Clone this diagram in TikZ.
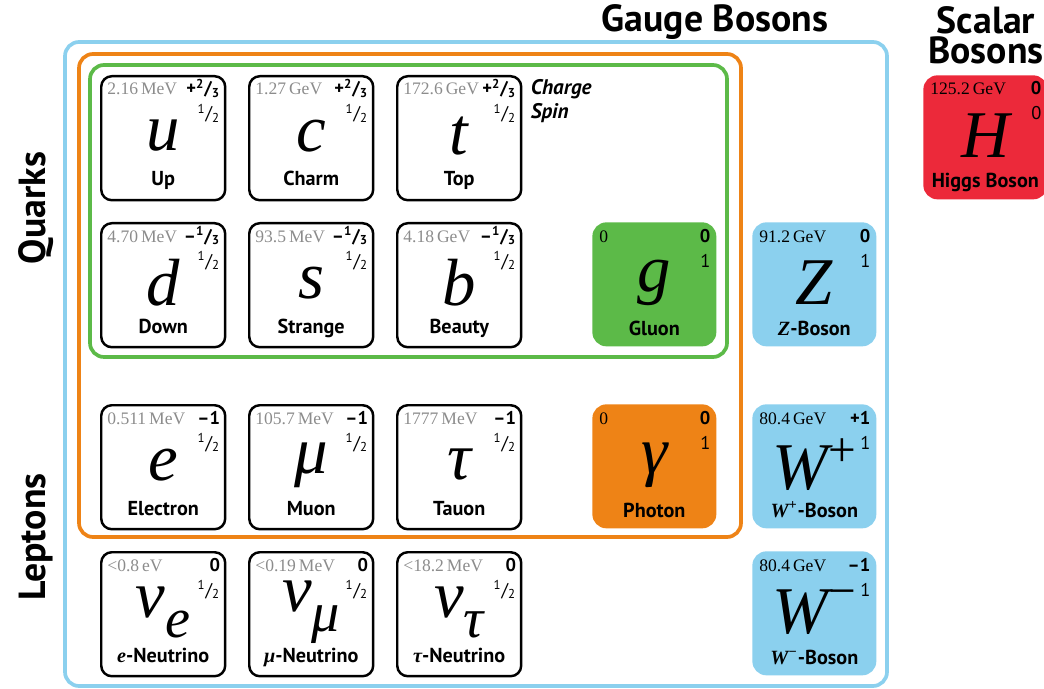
\documentclass[tikz,border=0pt]{standalone}
\usepackage{fontspec}
\usepackage{xcolor}
\usetikzlibrary{positioning}
\newfontfamily\labfont{PT Sans}
\newfontfamily\symfont{Liberation Serif}
\definecolor{bosblue}{RGB}{139,208,238}
\definecolor{lepor}{RGB}{238,131,22}
\definecolor{quagreen}{RGB}{92,186,72}
\definecolor{higred}{RGB}{236,41,58}
\definecolor{massgray}{RGB}{140,140,140}

\newcommand{\slfrac}[2]{\textsuperscript{#1}/\textsubscript{#2}}
\newcommand{\lowsub}[1]{\raisebox{-0.3em}{\fontsize{32}{32}\selectfont #1}}
\newcommand{\highsup}[2]{\raisebox{#1}{\fontsize{28}{28}\selectfont\upshape #2}}
\newcommand{\bi}[1]{{\symfont\bfseries\itshape #1}}
% name, x, y, mass, charge, symbol, label
\newcommand{\fermion}[7]{%
  \node[cell, draw, line width=1.4pt] (#1) at (#2,#3) {};
  \node[mass, massgray, anchor=base west] (#1m) at ([shift={(7,20)}]#1.north west) {#4};
  \node[chg, anchor=base east] (#1q) at ([shift={(-6,20)}]#1.north east) {#5};
  \node[spn, anchor=base east] (#1s) at ([shift={(-6,45)}]#1.north east) {\slfrac{1}{2}};
  \node[sym] (#1y) at ([shift={(0,61)}]#1.north) {#6};
  \node[lab, anchor=base] (#1l) at ([shift={(0,111)}]#1.north) {#7};
}
% name, x, y, fill, mass, charge, spin, symbol, label
\newcommand{\boson}[9]{%
  \node[cell, rounded corners=8pt, fill=#4] (#1) at (#2,#3) {};
  \node[mass, anchor=base west] (#1m) at ([shift={(7,20)}]#1.north west) {#5};
  \node[chg, anchor=base east] (#1q) at ([shift={(-6,20)}]#1.north east) {#6};
  \node[spn, anchor=base east] (#1s) at ([shift={(-6,45)}]#1.north east) {#7};
  \node[sym] (#1y) at ([shift={(0,61)}]#1.north) {#8};
  \node[lab, anchor=base] (#1l) at ([shift={(0,113)}]#1.north) {#9};
}

\begin{document}
\begin{tikzpicture}[x=0.02cm, y=-0.02cm,
  cell/.style={rounded corners=6pt, minimum width=2.48cm, minimum height=2.48cm,
    inner sep=0pt, anchor=north west},
  mass/.style={font=\symfont\fontsize{10}{10}\selectfont, inner sep=0pt},
  chg/.style={font=\labfont\bfseries\fontsize{10.5}{11}\selectfont, inner sep=0pt},
  spn/.style={font=\labfont\fontsize{10.5}{11}\selectfont, inner sep=0pt},
  sym/.style={font=\symfont\itshape\fontsize{38}{38}\selectfont, inner sep=0pt},
  lab/.style={font=\labfont\bfseries\fontsize{11.5}{12}\selectfont, inner sep=0pt},
  title/.style={font=\labfont\bfseries\fontsize{21.5}{17}\selectfont, inner sep=0pt},
  frame/.style={line width=2.1pt, rounded corners=8pt}]
\useasboundingbox (0,0) rectangle (1044,689);
% group frames
\draw[frame, bosblue] (65,42) rectangle (887,686);
\draw[frame, lepor] (79,54) rectangle (741,537);
\draw[frame, quagreen] (90,65) rectangle (727,357);
% quarks
\fermion{u}{100}{75}{2.16\,MeV}{+\slfrac{2}{3}}{u}{Up}
\fermion{c}{248}{75}{1.27\,GeV}{+\slfrac{2}{3}}{c}{Charm}
\fermion{t}{396}{75}{172.6\,GeV}{+\slfrac{2}{3}}{t}{Top}
\fermion{d}{100}{222}{4.70\,MeV}{\textendash\slfrac{1}{3}}{d}{Down}
\fermion{s}{248}{222}{93.5\,MeV}{\textendash\slfrac{1}{3}}{s}{Strange}
\fermion{b}{396}{222}{4.18\,GeV}{\textendash\slfrac{1}{3}}{b}{Beauty}
% leptons
\fermion{e}{100}{404}{0.511\,MeV}{\textendash1}{e}{Electron}
\fermion{mu}{248}{404}{105.7\,MeV}{\textendash1}{μ}{Muon}
\fermion{tau}{396}{404}{1777\,MeV}{\textendash1}{τ}{Tauon}
\fermion{ne}{100}{551}{<0.8\,eV}{0}{ν\lowsub{e}}{\bi{e}-Neutrino}
\fermion{nm}{248}{551}{<0.19\,MeV}{0}{ν\lowsub{μ}}{\bi{μ}-Neutrino}
\fermion{nt}{396}{551}{<18.2\,MeV}{0}{ν\lowsub{τ}}{\bi{τ}-Neutrino}
% bosons
\boson{g}{592}{222}{quagreen}{0}{0}{1}{g}{Gluon}
\boson{ga}{592}{404}{lepor}{0}{0}{1}{γ}{Photon}
\boson{z}{752}{222}{bosblue}{91.2\,GeV}{0}{1}{Z}{\bi{Z}-Boson}
\boson{wp}{752}{404}{bosblue}{80.4\,GeV}{+1}{1}{W\highsup{13pt}{+}}{\bi{W\textsuperscript{+}}-Boson}
\boson{wm}{752}{551}{bosblue}{80.4\,GeV}{\textendash1}{1}{W\highsup{15pt}{−}}{\bi{W\textsuperscript{−}}-Boson}
\boson{h}{923}{75}{higred}{125.2\,GeV}{0}{0}{H}{Higgs Boson}
% legend and titles
\node[lab, font=\labfont\bfseries\itshape\fontsize{12}{12}\selectfont, anchor=base west]
  (chglab) at ([shift={(8,20)}]t.north east) {Charge};
\node[lab, font=\labfont\bfseries\itshape\fontsize{12}{12}\selectfont, anchor=base west]
  (spnlab) at ([shift={(8,44)}]t.north east) {Spin};
\node[title] (gauge) at (715,22) {Gauge Bosons};
\node[title, align=center] (scalar) at (986,35) {Scalar\\Bosons};
\node[title, rotate=90] (quarks) at (36,208) {Quarks};
\node[title, rotate=90] (leptons) at (36,537) {Leptons};
\end{tikzpicture}
\end{document}
